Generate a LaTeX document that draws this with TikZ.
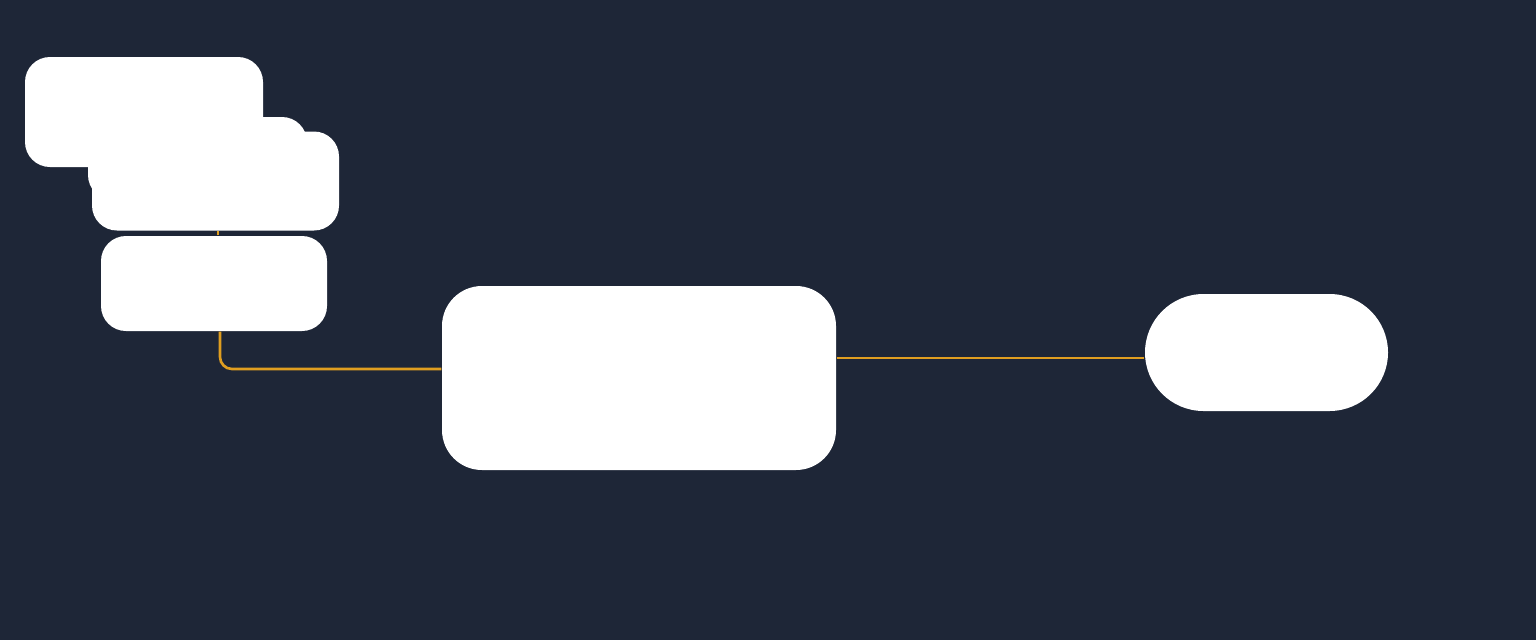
\documentclass[tikz,border=0pt]{standalone}
\usepackage{tikz}
\definecolor{navy}{RGB}{30,38,55}
\definecolor{wire}{RGB}{224,158,32}

\begin{document}
\begin{tikzpicture}[box/.style={fill=white,rounded corners=0.25cm,inner sep=0pt},
  link/.style={draw=wire,line width=0.75pt}]

\useasboundingbox (0,0) rectangle (15.36,6.40);
\fill[navy] (0,0) rectangle (15.36,6.40);

\node[box,minimum width=2.38cm,minimum height=1.10cm]   (a) at (1.44,5.28)  {};
\node[box,minimum width=2.19cm,minimum height=0.83cm]   (b) at (1.975,4.815) {};
\node[box,minimum width=2.47cm,minimum height=0.99cm]   (c) at (2.155,4.59) {};
\node[box,minimum width=2.26cm,minimum height=0.95cm]   (d) at (2.14,3.565) {};
\node[box,rounded corners=0.4cm,minimum width=3.94cm,minimum height=1.84cm] (e) at (6.39,2.62) {};
\node[box,rounded corners=0.585cm,minimum width=2.43cm,minimum height=1.17cm] (f) at (12.665,2.875) {};

	\draw[link] ([xshift=0.04cm]d.north) -- ([xshift=0.04cm]d.north |- c.south);
	\draw[link,rounded corners=0.12cm] ([xshift=0.06cm]d.south) |- ([yshift=0.09cm]e.west);
	\draw[link] ([yshift=-0.055cm]f.west -| e.east) -- ([yshift=-0.055cm]f.west);

\end{tikzpicture}
\end{document}
